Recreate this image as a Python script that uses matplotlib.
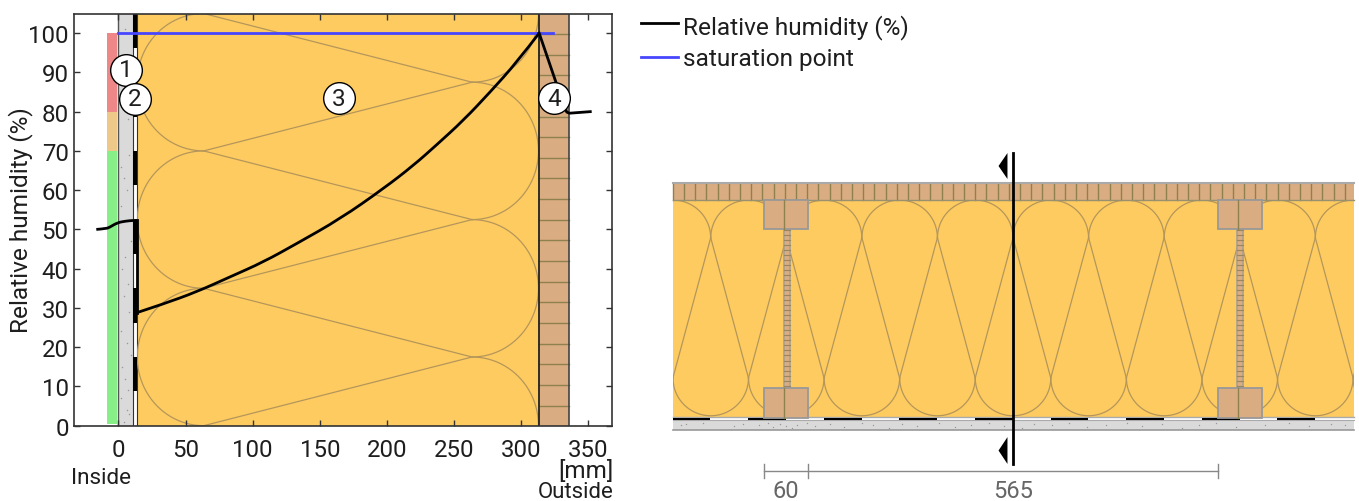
""" Relative humidity through a wall build-up, next to the wall section """
import numpy as np
import matplotlib
matplotlib.use('Agg')
import matplotlib.pyplot as plt
from matplotlib.patches import Rectangle, PathPatch
from matplotlib.path import Path

plt.rcParams['font.family'] = ['Roboto', 'DejaVu Sans']

W, H = 1359, 502

#colours
INSUL = '#FECB60'
BRICK = '#D9AC81'
JOINT = '#8F8050'
CURVE = '#B5965A'
PLASTER = '#DADADA'
SPINE = '#333333'
TEXT = '#1E1E1E'

#humidity chart data (x in mm, y in %)
rh_in_x = [-16.5, -9, -6.3, -0.9, 5, 11, 13.8]
rh_in_y = [50, 50.2, 50.6, 51.7, 52.1, 52.3, 52.3]
rh_x = [13.8, 33.4, 58.3, 83.1, 108, 132.9, 165.2, 197.5, 219.8, 237.3, 257.1, 277, 296.9, 313.5]
rh_y = [28.8, 31, 34.1, 37.9, 41.7, 46.4, 52.7, 60.4, 66.3, 71.6, 77.8, 85, 92.6, 100]
rh_out_x = [313.5, 326, 334, 336, 351.6]
rh_out_y = [100, 87.5, 79.9, 79.6, 80]
sat_x = [0, 324]
sat_y = [100, 100]
xticks = [0, 50, 100, 150, 200, 250, 300, 350]
yticks = [0, 10, 20, 30, 40, 50, 60, 70, 80, 90, 100]

#risk bar: from, to, colour
risk_from = [0.5, 70, 80]
risk_to = [70, 80, 100]
risk_col = ['#88EE88', '#EEC888', '#EE8888']

#layers of the wall in the chart (mm)
plaster_x = [0, 11]
membrane_x = [11, 13.8]
insul_x = [13.8, 313.5]
brick_x = [313.5, 335.5]
membrane_black = [96.25, 61.25, 26.25, 43.75, 8.75, 78.75]   #lower end of each black piece
membrane_len = 8.75
brick_joints = [99.8, 94.5, 89.3, 84, 78.7, 73.5, 68.2, 63, 57.7, 52.4, 47.2, 41.9, 36.7,
                31.4, 26.1, 20.9, 15.6, 10.4, 5.1]
specks_x = [5, 3, 7, 2, 8, 4, 6, 2, 9, 5, 3, 7, 4, 8, 2, 6, 9, 3, 5, 7, 2, 6, 8, 4]
specks_y = [101, 94, 78, 66, 69, 63, 60, 56, 47, 43, 40, 36, 33, 29, 24, 21, 18, 15, 12, 9, 7, 4, 3, 1]

#circled labels
tag_x = [5.6, 12.3, 164, 324.8]
tag_y = [90.7, 83.3, 83.4, 83.4]
tag_txt = ['1', '2', '3', '4']

#section drawing data (mm)
SCALE = 0.726         #px per mm
STUD_PX, BASE_PX = 764.4, 418.5
sec_left, sec_right = -126.3, 812
stud_x = [0, 625]
stud_w = 60
flange_h = 40
wall_h = 300
brick_h = 23
membrane_h = 3.4
plaster_h = 17.2
web_off = [26.5, 34.7]
flange_line = 27.4
joint_step = 15.43
pitch = 104.1
arc_r = 52
arc_top_y, arc_bot_y = 247.5, 54.4
first_top = -21.9
cut_x = 342.8
dim_pos = [0, 60, 625]
dim_txt = ['60', '565']
sec_specks_x = [-115, -108, -85, -42, -30, -8, 5, 12, 22, 30, 38, 45, 58, 70, 90, 110, 135, 150, 172,
                190, 210, 240, 262, 285, 310, 330, 355, 372, 396, 420, 445, 470, 500, 520, 548, 575,
                598, 622, 650, 690, 722, 750, 780, 800]
sec_specks_y = [-11, -9, -7, -12, -9, -11, -7, -13, -9, -12, -14, -10, -8, -12, -9, -13, -8, -11, -14,
                -9, -12, -7, -13, -10, -8, -12, -14, -9, -11, -8, -13, -10, -7, -12, -9, -14,
                -11, -8, -13, -10, -7, -12, -9, -11]


def teardrop(cx_a, cy_a, rx_a, ry_a, t0, t1, n=50):
    t = np.radians(np.linspace(t0, t1, n))
    return cx_a + rx_a*np.cos(t), cy_a + ry_a*np.sin(t)


def smooth_line(ax, xs, ys, **kw):
    #quadratic pieces through the midpoints, so read values don't show up as corners
    verts = [(xs[0], ys[0])]
    codes = [Path.MOVETO]
    for i in range(1, len(xs) - 1):
        end = ((xs[i] + xs[i + 1])/2, (ys[i] + ys[i + 1])/2)
        if i == len(xs) - 2:
            end = (xs[-1], ys[-1])
        verts += [(xs[i], ys[i]), end]
        codes += [Path.CURVE3, Path.CURVE3]
    return ax.add_patch(PathPatch(Path(verts, codes), fc='none', **kw))


fig = plt.figure(figsize=(W/100, H/100), dpi=100)

#------ section drawing, full figure axes so it shares the pixel grid
ax2 = fig.add_axes([0, 0, 1, 1])
ax2.set_xlim((0 - STUD_PX)/SCALE, (W - STUD_PX)/SCALE)
ax2.set_ylim((BASE_PX - H)/SCALE, BASE_PX/SCALE)
ax2.axis('off')

span = sec_right - sec_left
ins = ax2.add_patch(Rectangle((sec_left, 0), span, wall_h, fc=INSUL, ec='none', zorder=1))
ax2.plot([sec_left, sec_right], [0.3, 0.3], color='#AAAAAA', lw=1, zorder=2)

for k in range(-2, 10):
    top_c = first_top + k*pitch
    bot_c = top_c - pitch/2
    xa, ya = teardrop(top_c, arc_top_y, arc_r, arc_r, 0, 180)
    xb, yb = teardrop(bot_c, arc_bot_y, arc_r, arc_r, 180, 360)
    for xs, ys in [(xa, ya), (xb, yb),
                   ([bot_c + arc_r, top_c + arc_r], [arc_bot_y, arc_top_y]),
                   ([bot_c + arc_r, top_c - arc_r], [arc_bot_y, arc_top_y])]:
        ln, = ax2.plot(xs, ys, color=CURVE, lw=0.9, zorder=2)
        ln.set_clip_path(ins)

#bricks
ax2.add_patch(Rectangle((sec_left, wall_h), span, brick_h, fc=BRICK, ec='none', zorder=3))
for xj in np.arange(sec_left, sec_right, joint_step):
    ax2.plot([xj, xj], [wall_h, wall_h + brick_h], color=JOINT, lw=1, zorder=3)
ax2.plot([sec_left, sec_right], [wall_h + brick_h]*2, color='#AAAAAA', lw=1.5, zorder=3)
ax2.plot([sec_left, sec_right], [wall_h]*2, color='#999070', lw=1, zorder=3)

#membrane and plaster
ax2.add_patch(Rectangle((sec_left, -plaster_h), span, plaster_h - membrane_h, fc=PLASTER, ec='none', zorder=2))
ax2.plot([sec_left, sec_right], [-plaster_h]*2, color='#999999', lw=1.2, zorder=3)
ax2.plot([sec_left, sec_right], [-membrane_h]*2, color='#AAAAAA', lw=0.8, zorder=3)
for k in range(0, 9):
    ax2.add_patch(Rectangle((sec_left + k*pitch, -membrane_h), pitch/2, membrane_h, fc='black', ec='none', zorder=3))
ax2.scatter(sec_specks_x, sec_specks_y, s=1, color='#999999', linewidths=0, zorder=3)

#studs
for sx in stud_x:
    ax2.add_patch(Rectangle((sx + web_off[0], flange_h), web_off[1] - web_off[0], wall_h - 2*flange_h,
                            fc=BRICK, ec='#A8A090', lw=1.2, zorder=4))
    for yr in np.arange(flange_h + 4, wall_h - flange_h, 6.9):
        ax2.plot([sx + web_off[0], sx + web_off[1]], [yr, yr], color='#9A8560', lw=0.8, zorder=4)
    for y0 in [0, wall_h - flange_h]:
        ax2.add_patch(Rectangle((sx, y0), stud_w, flange_h, fc=BRICK, ec='#999999', lw=1.3, zorder=5))
        ax2.plot([sx + flange_line]*2, [y0, y0 + flange_h], color=JOINT, lw=1, zorder=6)

#cut marker
ax2.plot([cut_x, cut_x], [-64, 364.3], color='black', lw=2, zorder=7)
ax2.fill([322.5, 334.8, 334.8], [346.4, 364.3, 328.5], color='black', lw=0, zorder=7)
ax2.fill([322.5, 334.8, 334.8], [-45.5, -27, -64], color='black', lw=0, zorder=7)

#dimensions
dim_y = -73.7
ax2.plot([dim_pos[0], dim_pos[-1]], [dim_y, dim_y], color='#888888', lw=1)
for dx in dim_pos:
    ax2.plot([dx, dx], [dim_y - 9.6, dim_y + 9.6], color='#888888', lw=1)
for i in range(len(dim_txt)):
    ax2.text((dim_pos[i] + dim_pos[i + 1])/2, -100.5, dim_txt[i], color='#666666', fontsize=17,
             ha='center', va='center')

#------ humidity chart
ax1 = fig.add_axes([73.5/W, 1 - 426.7/H, 538.8/W, 412.2/H])
ax1.set_xlim(-33.5, 368)
ax1.set_ylim(0, 105)
ax1.patch.set_facecolor('white')

for a, b, c in zip(risk_from, risk_to, risk_col):
    ax1.add_patch(Rectangle((-8.6, a), 7.7, b - a, fc=c, ec='none', zorder=1))
ax1.add_patch(Rectangle((plaster_x[0], 0), plaster_x[1], 105, fc=PLASTER, ec='none', zorder=1))
ax1.plot([plaster_x[0]]*2, [0, 105], color='#555555', lw=1, zorder=2)
ax1.scatter(specks_x, specks_y, s=1.2, color='#999999', linewidths=0, zorder=2)
ax1.add_patch(Rectangle((membrane_x[0], 0), membrane_x[1] - membrane_x[0], 105, fc='white', ec='#333333',
                        lw=0.8, zorder=2))
for y0 in membrane_black:
    ax1.add_patch(Rectangle((membrane_x[0], y0), membrane_x[1] - membrane_x[0], membrane_len, fc='black',
                            ec='none', zorder=2))
ins1 = ax1.add_patch(Rectangle((insul_x[0], 0), insul_x[1] - insul_x[0], 105, fc=INSUL, ec='none', zorder=1))
ax1.add_patch(Rectangle((brick_x[0], 0), brick_x[1] - brick_x[0], 105, fc=BRICK, ec='none', zorder=1))
for yj in brick_joints:
    ax1.plot(brick_x, [yj, yj], color=JOINT, lw=1, zorder=2)
ax1.plot([brick_x[0]]*2, [0, 105], color='#222222', lw=1.3, zorder=3)
ax1.plot([brick_x[1]]*2, [0, 105], color='#444444', lw=1.2, zorder=3)

#insulation curve of the chart
lc, rc, rx, ry = 63.5, 263.5, 49.5, 17.5
for cy in [87.5, 52.5, 17.5]:
    xa, ya = teardrop(lc, cy, rx, ry, 90, 270)
    ln, = ax1.plot(xa, ya, color=CURVE, lw=0.9, zorder=2)
    ln.set_clip_path(ins1)
    for y_left, y_right in [(cy + ry, cy), (cy - ry, cy)]:
        ln, = ax1.plot([lc, rc], [y_left, y_right], color=CURVE, lw=0.9, zorder=2)
        ln.set_clip_path(ins1)
for cy in [105, 70, 35, 0]:
    xa, ya = teardrop(rc, cy, rx, ry, -90, 90)
    ln, = ax1.plot(xa, ya, color=CURVE, lw=0.9, zorder=2)
    ln.set_clip_path(ins1)

sat, = ax1.plot(sat_x, sat_y, color='#4646FF', lw=2, zorder=4)
smooth_line(ax1, rh_in_x, rh_in_y, ec='black', lw=2, zorder=5)
ax1.plot([rh_in_x[-1], rh_x[0]], [rh_in_y[-1], rh_y[0]], color='black', lw=2, zorder=5)
smooth_line(ax1, rh_x, rh_y, ec='black', lw=2, zorder=5)
ax1.plot(rh_out_x, rh_out_y, color='black', lw=2, zorder=5)

ax1.scatter(tag_x, tag_y, s=520, fc='white', ec='black', lw=1, zorder=6, clip_on=False)
for tx, ty, tt in zip(tag_x, tag_y, tag_txt):
    ax1.text(tx, ty, tt, fontsize=17.5, ha='center', va='center', color=TEXT, zorder=7)

ax1.set_xticks(xticks)
ax1.set_yticks(yticks)
ax1.tick_params(axis='both', which='major', direction='in', length=4.5, width=1, color=SPINE,
                top=True, right=True, labelsize=17.3, labelcolor=TEXT)
ax1.tick_params(axis='x', pad=9)
ax1.tick_params(axis='y', pad=3.5)
for s in ax1.spines.values():
    s.set_color(SPINE)
    s.set_linewidth(1.2)
    s.set_zorder(8)
ax1.set_axisbelow(False)

fig.text(21/W, 1 - 220/H, 'Relative humidity (%)', rotation=90, fontsize=17.6, ha='center', va='center', color=TEXT)
fig.text(101/W, 1 - 479/H, 'Inside', fontsize=16.2, ha='center', va='center', color=TEXT)
fig.text(613/W, 1 - 471/H, '[mm]', fontsize=17.5, ha='right', va='center', color=TEXT)
fig.text(614/W, 1 - 492.5/H, 'Outside', fontsize=16, ha='right', va='center', color=TEXT)

#legend, placed by hand
fig.add_artist(plt.Line2D([640.7/W, 678/W], [1 - 24/H]*2, color='black', lw=2))
fig.add_artist(plt.Line2D([640.7/W, 678/W], [1 - 58/H]*2, color='#4646FF', lw=2))
fig.text(683/W, 1 - 27.5/H, 'Relative humidity (%)', fontsize=17.6, ha='left', va='center', color=TEXT)
fig.text(683/W, 1 - 59.5/H, 'saturation point', fontsize=17.6, ha='left', va='center', color=TEXT)

fig.savefig('out.png', dpi=100)
